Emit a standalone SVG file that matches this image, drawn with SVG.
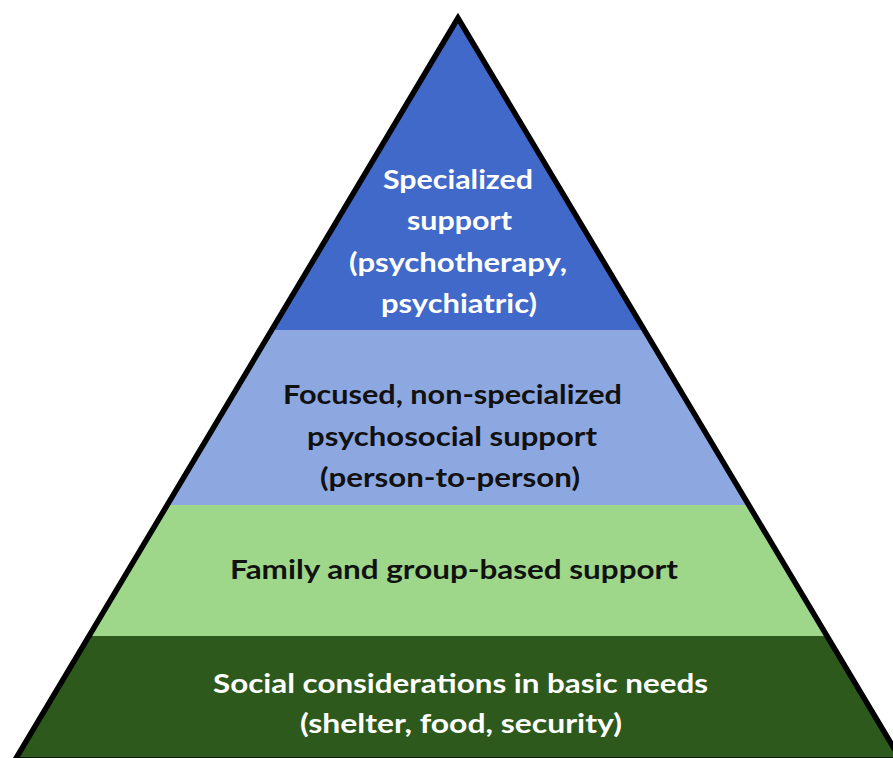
<svg xmlns="http://www.w3.org/2000/svg" width="893" height="758" viewBox="0 0 893 758">
  <style>
    .lbl { font-family: Lato, "Open Sans", "Liberation Sans", sans-serif; font-weight: 700; font-size: 27px; text-anchor: middle; }
    .light { fill: #ffffff; }
    .dark { fill: #111111; }
  </style>
  <defs>
    <clipPath id="tri">
      <polygon points="458,18 15,760 901,760"/>
    </clipPath>
  </defs>
  <rect width="893" height="758" fill="#ffffff"/>

  <!-- pyramid tiers, clipped to the triangle -->
  <g clip-path="url(#tri)">
    <g id="tier-specialized">
      <rect x="0" y="0" width="893" height="330" fill="#4169C9"/>
    </g>
    <g id="tier-focused">
      <rect x="0" y="330" width="893" height="175" fill="#8DA7E0"/>
    </g>
    <g id="tier-family">
      <rect x="0" y="505" width="893" height="131" fill="#9ED78A"/>
    </g>
    <g id="tier-basic">
      <rect x="0" y="636" width="893" height="130" fill="#2D5A1C"/>
    </g>
  </g>

  <g id="connectors"></g>

  <g id="outline">
    <polygon points="458,18 15,760 901,760" fill="none" stroke="#000000" stroke-width="5.5" stroke-linejoin="miter" stroke-miterlimit="10"/>
  </g>

  <g id="labels">
    <text class="lbl light" x="458" y="189" textLength="150" lengthAdjust="spacingAndGlyphs">Specialized</text>
    <text class="lbl light" x="459.5" y="230" textLength="105" lengthAdjust="spacingAndGlyphs">support</text>
    <text class="lbl light" x="458" y="271.5" textLength="218" lengthAdjust="spacingAndGlyphs">(psychotherapy,</text>
    <text class="lbl light" x="459" y="313" textLength="156" lengthAdjust="spacingAndGlyphs">psychiatric)</text>

    <text class="lbl dark" x="452.5" y="403.5" textLength="339" lengthAdjust="spacingAndGlyphs">Focused, non-specialized</text>
    <text class="lbl dark" x="452" y="446" textLength="290" lengthAdjust="spacingAndGlyphs">psychosocial support</text>
    <text class="lbl dark" x="450" y="487" textLength="260" lengthAdjust="spacingAndGlyphs">(person-to-person)</text>

    <text class="lbl dark" x="454" y="579" textLength="448" lengthAdjust="spacingAndGlyphs">Family and group-based support</text>

    <text class="lbl light" x="460.5" y="692.5" textLength="495" lengthAdjust="spacingAndGlyphs">Social considerations in basic needs</text>
    <text class="lbl light" x="461" y="733" textLength="322" lengthAdjust="spacingAndGlyphs">(shelter, food, security)</text>
  </g>
</svg>
